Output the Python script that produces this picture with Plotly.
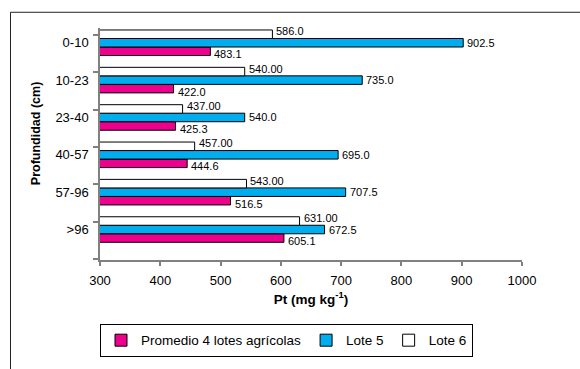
import plotly.graph_objects as go

categories = ["0-10", "10-23", "23-40", "40-57", "57-96", ">96"]
promedio = [483.1, 422.0, 425.3, 444.6, 516.5, 605.1]
lote5 = [902.5, 735.0, 540.0, 695.0, 707.5, 672.5]
lote6 = [586.0, 540.0, 437.0, 457.0, 543.0, 631.0]
promedio_labels = ["483.1", "422.0", "425.3", "444.6", "516.5", "605.1"]
lote5_labels = ["902.5", "735.0", "540.0", "695.0", "707.5", "672.5"]
lote6_labels = ["586.0", "540.00", "437.00", "457.00", "543.00", "631.00"]
x_ticks = [300, 400, 500, 600, 700, 800, 900, 1000]

n = len(categories)
ypos = [n - 1 - i for i in range(n)]  # first category at top
boundaries = [k + 0.21 for k in range(-1, n)]

FONT = "Liberation Sans, Arial, sans-serif"
BARGAP = 0.316
BAR_T = (1 - BARGAP) / 3  # thickness of one bar in axis units

fig = go.Figure()
# (name, values, labels, colour, offset of bar in group, label yshift px)
series = [
    ("Promedio 4 lotes agrícolas", promedio, promedio_labels, "#EC008C", -BAR_T, -3),
    ("Lote 5", lote5, lote5_labels, "#00AEEF", 0.0, 0),
    ("Lote 6", lote6, lote6_labels, "#FFFFFF", BAR_T, 3),
]
annotations = []
for name, vals, labels, color, off, ysh in series:
    fig.add_trace(go.Bar(
        name=name, x=vals, y=ypos, orientation="h",
        marker=dict(color=color, line=dict(color="#000000", width=1)),
    ))
    for v, yp, lab in zip(vals, ypos, labels):
        annotations.append(dict(
            x=v, y=yp + off, xref="x", yref="y", text=lab, showarrow=False,
            xanchor="left", yanchor="middle", xshift=2, yshift=ysh,
            font=dict(family=FONT, size=11, color="#000000"),
        ))

# plot area: x 100..522 px, y 28..264 px
PL, PR = 100, 522
PT, PB = 28, 264
PH = PB - PT
PW = PR - PL
def py(pix):
    return (PB - pix) / PH
def px(pix):
    return (pix - PL) / PW

annotations.append(dict(
    text="<b>Profundidad (cm)</b>", textangle=-90, xref="paper", yref="paper",
    x=px(36), y=py(136), xanchor="center", yanchor="middle",
    showarrow=False, font=dict(size=12.5, family=FONT)))

fig.update_layout(
    width=580, height=369,
    paper_bgcolor="white", plot_bgcolor="white",
    margin=dict(l=PL, r=580 - PR, t=PT, b=369 - PB),
    barmode="group", bargap=BARGAP, bargroupgap=0,
    font=dict(family=FONT, size=13, color="#000000"),
    showlegend=True,
    legend=dict(
        orientation="h", x=px(100), y=py(329), xanchor="left", yanchor="top",
        bordercolor="#000000", borderwidth=1, font=dict(size=13.5, family=FONT),
        traceorder="normal", itemwidth=30, tracegroupgap=0,
    ),
    xaxis=dict(
        range=[300, 1000], tickvals=x_ticks, showgrid=False, zeroline=False,
        showline=True, linecolor="#808080", linewidth=1.5,
        ticks="outside", ticklen=4, tickcolor="#808080", tickwidth=1.5,
        tickfont=dict(size=13), ticklabelstandoff=4,
        title=dict(text="<b>Pt (mg kg<sup>-1</sup>)</b>", font=dict(size=13.5), standoff=7),
    ),
    yaxis=dict(
        range=[-0.816, 5.395], tickvals=ypos, ticktext=categories,
        showgrid=False, zeroline=False,
        showline=True, linecolor="#808080", linewidth=1.5,
        ticks="", tickfont=dict(size=13), ticklabelstandoff=7,
        minor=dict(tickvals=boundaries, ticks="outside", ticklen=5,
                   tickcolor="#808080", tickwidth=1.5, showgrid=False),
    ),
    annotations=annotations,
    shapes=[
        dict(type="rect", xref="paper", yref="paper", layer="above",
             x0=px(10.5), x1=px(590), y0=py(380), y1=py(12),
             line=dict(color="#222222", width=1), fillcolor="rgba(0,0,0,0)"),
    ],
)

fig.write_html("out.html", config={"displayModeBar": False},
               post_script="document.body.style.margin='0';")
